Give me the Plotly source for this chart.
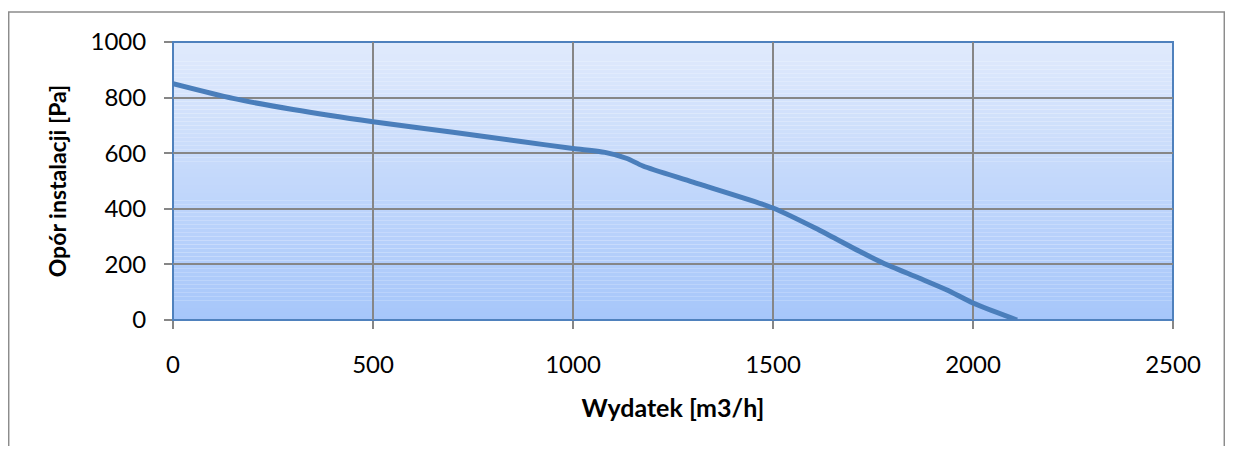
import plotly.graph_objects as go

# Data
wydatek = [0, 150, 300, 500, 700, 870, 1000, 1080, 1135, 1175, 1300, 1500,
           1615, 1715, 1775, 1865, 1935, 2000, 2110]
opor = [850, 797, 757, 713, 675, 642, 617, 603, 581, 554, 496, 403,
        324, 248, 205, 151, 108, 61, 0]

x_ticks = [0, 500, 1000, 1500, 2000, 2500]
y_ticks = [0, 200, 400, 600, 800, 1000]

fig = go.Figure()
fig.add_trace(go.Scatter(
    x=wydatek, y=opor, mode="lines",
    line=dict(color="#4A7EBB", width=5, shape="spline", smoothing=0.7),
    showlegend=False, hoverinfo="skip"))

# gradient plot background (stack of thin bands)
shapes = []
n = 70
top = (224, 234, 252)
bot = (166, 198, 250)
for i in range(n):
    t = i / (n - 1)
    c = tuple(round(bot[k] + (top[k] - bot[k]) * t) for k in range(3))
    shapes.append(dict(type="rect", xref="x domain", yref="y domain",
                       x0=0, x1=1, y0=i / n, y1=(i + 1) / n,
                       fillcolor="rgb(%d,%d,%d)" % c, line=dict(width=0),
                       layer="below"))
# plot area border (blue)
shapes.append(dict(type="rect", xref="x domain", yref="y domain",
                   x0=0, x1=1, y0=0, y1=1,
                   line=dict(color="#4F81BD", width=2), layer="below"))
# outer chart border
shapes.append(dict(type="rect", xref="paper", yref="paper",
                   x0=-0.1643, x1=1.0513, y0=-0.6, y1=1.108,
                   line=dict(color="#8C8C8C", width=1.5)))

font_family = "Lato, Open Sans, Liberation Sans, sans-serif"

fig.update_layout(
    width=1217, height=438,
    margin=dict(l=165, r=52, t=34, b=126),
    paper_bgcolor="white", plot_bgcolor="rgba(0,0,0,0)",
    shapes=shapes,
    font=dict(family=font_family, size=24, color="black"),
    xaxis=dict(range=[0, 2500], tickvals=x_ticks, ticktext=[str(v) for v in x_ticks],
               showgrid=True, gridcolor="#868686", gridwidth=1.5,
               ticks="outside", ticklen=8, tickcolor="#868686", tickwidth=1.5,
               ticklabelstandoff=15, zeroline=False, showline=False,
               title=dict(text="<b>Wydatek [m3/h]</b>", font=dict(size=25), standoff=22),
               fixedrange=True),
    yaxis=dict(range=[0, 1000], tickvals=y_ticks, ticktext=[str(v) for v in y_ticks],
               showgrid=True, gridcolor="#868686", gridwidth=1.5,
               ticks="outside", ticklen=8, tickcolor="#868686", tickwidth=1.5,
               ticklabelstandoff=13, zeroline=False, showline=False,
               title=dict(text="<b>Opór instalacji [Pa]</b>", font=dict(size=23), standoff=17),
               fixedrange=True),
)

fig.write_html("out.html")
